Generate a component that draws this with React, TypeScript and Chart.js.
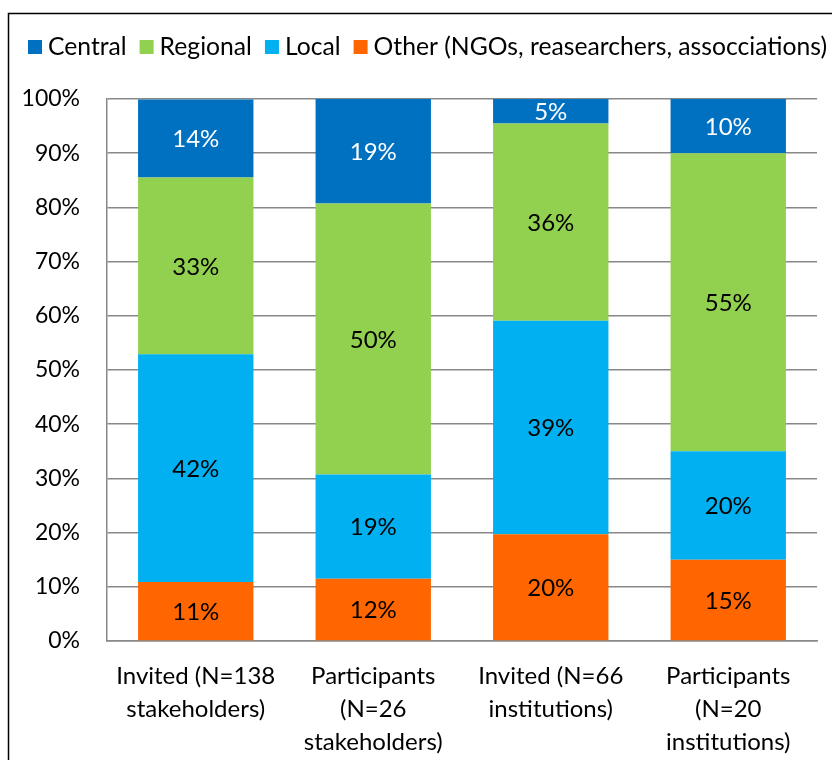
import React, { useEffect, useRef } from "react";
import { Chart, registerables } from "chart.js";

Chart.register(...registerables);

const categories: string[][] = [
  ["Invited (N=138", "stakeholders)"],
  ["Participants", "(N=26", "stakeholders)"],
  ["Invited (N=66", "institutions)"],
  ["Participants", "(N=20", "institutions)"],
];

const seriesNames = ["Other (NGOs, reasearchers, assocciations)", "Local", "Regional", "Central"];
const otherValues = [10.9, 11.5, 19.7, 15.0];
const localValues = [42.0, 19.2, 39.4, 20.0];
const regionalValues = [32.6, 50.0, 36.4, 55.0];
const centralValues = [14.4, 19.3, 4.5, 10.0];
const seriesColors = ["#FF6600", "#00B0F0", "#92D050", "#0070C0"];
const labelColors = ["#000000", "#000000", "#000000", "#FFFFFF"];
const yTicks = [0, 10, 20, 30, 40, 50, 60, 70, 80, 90, 100];

const FONT = "Lato";

const framePlugin = {
  id: "frame",
  beforeDraw(chart: any) {
    const ctx = chart.ctx;
    ctx.save();
    ctx.strokeStyle = "#000";
    ctx.lineWidth = 1.5;
    ctx.strokeRect(8.5, 13.5, 900, 900);
    ctx.restore();
  },
};

const legendPlugin = {
  id: "customLegend",
  afterDraw(chart: any) {
    const ctx = chart.ctx;
    ctx.save();
    ctx.font = `24.7px ${FONT}`;
    ctx.textBaseline = "middle";
    ctx.textAlign = "left";
    let x = 28;
    const ds = chart.data.datasets;
    for (let i = ds.length - 1; i >= 0; i--) {
      ctx.fillStyle = ds[i].backgroundColor;
      ctx.fillRect(x, 40, 14, 14);
      ctx.fillStyle = "#000";
      ctx.fillText(ds[i].label, x + 20, 47);
      x += 20 + ctx.measureText(ds[i].label).width + 13;
    }
    ctx.restore();
  },
};

const dataLabelPlugin = {
  id: "segLabels",
  afterDatasetsDraw(chart: any) {
    const ctx = chart.ctx;
    ctx.save();
    ctx.font = `24px ${FONT}`;
    ctx.textAlign = "center";
    ctx.textBaseline = "middle";
    chart.data.datasets.forEach((ds: any, di: number) => {
      const meta = chart.getDatasetMeta(di);
      meta.data.forEach((el: any, i: number) => {
        const p = el.getProps(["x", "y", "base"], true);
        ctx.fillStyle = labelColors[di];
        ctx.fillText(Math.round(ds.data[i]) + "%", p.x, (p.y + p.base) / 2 + 1);
      });
    });
    ctx.restore();
  },
};

export default function App() {
  const ref = useRef<HTMLCanvasElement | null>(null);
  useEffect(() => {
    if (!ref.current) return;
    const values = [otherValues, localValues, regionalValues, centralValues];
    const chart = new Chart(ref.current, {
      type: "bar",
      data: {
        labels: categories,
        datasets: values.map((v, i) => ({
          label: seriesNames[i],
          data: v,
          backgroundColor: seriesColors[i],
          borderWidth: 0,
          barPercentage: 0.65,
          categoryPercentage: 1,
        })),
      },
      options: {
        animation: false,
        responsive: false,
        maintainAspectRatio: false,
        layout: { padding: { top: 99, right: 15, bottom: 0, left: 0 } },
        plugins: { legend: { display: false }, tooltip: { enabled: false } },
        scales: {
          x: {
            stacked: true,
            grid: { display: false, drawTicks: false },
            border: { display: true, color: "#888888", width: 1.5 },
            ticks: {
              color: "#000",
              font: { family: FONT, size: 24, lineHeight: "33px" } as any,
              padding: 19,
              maxRotation: 0,
              autoSkip: false,
            },
            afterFit(scale: any) {
              scale.height = 119;
            },
          },
          y: {
            stacked: true,
            min: 0,
            max: 100,
            afterBuildTicks(scale: any) {
              scale.ticks = yTicks.map((v) => ({ value: v }));
            },
            grid: { color: "#888888", lineWidth: 1.5, drawTicks: false },
            border: { display: true, color: "#888888", width: 1.5 },
            ticks: {
              color: "#000",
              font: { family: FONT, size: 23 },
              padding: 27,
              callback: (v: any) => v + "%",
            },
            afterFit(scale: any) {
              scale.width = 107;
            },
          },
        },
      },
      plugins: [framePlugin, legendPlugin, dataLabelPlugin],
    });
    return () => chart.destroy();
  }, []);
  return (
    <div style={{ position: "absolute", left: 0, top: 0, width: 832, height: 760 }}>
      <canvas ref={ref} width={832} height={760} style={{ display: "block" }} />
    </div>
  );
}
